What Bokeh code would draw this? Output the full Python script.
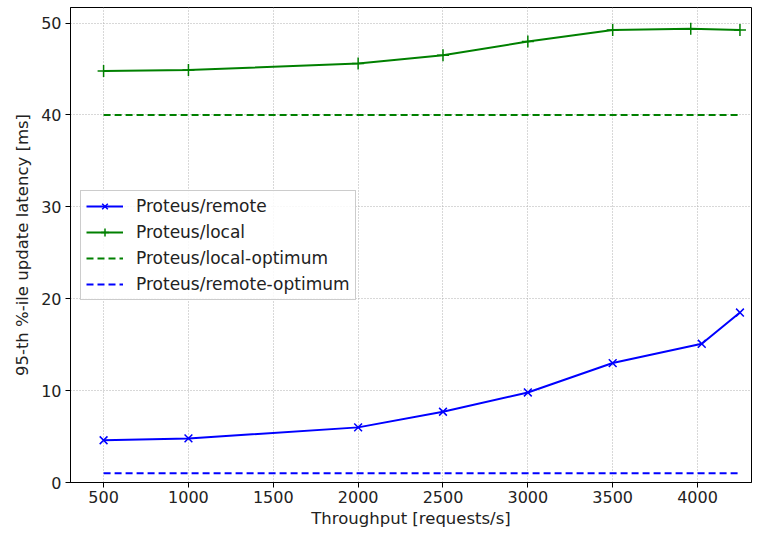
from bokeh.plotting import figure
from bokeh.models import Range1d, Legend, LegendItem, FixedTicker
from bokeh.embed import file_html
from bokeh.resources import INLINE

# data
remote_x = [500, 1000, 2000, 2500, 3000, 3500, 4025, 4250]
remote_y = [4.6, 4.8, 6.0, 7.7, 9.8, 13.0, 15.1, 18.5]
local_x = [500, 1000, 2000, 2500, 3000, 3500, 3960, 4250]
local_y = [44.8, 44.9, 45.6, 46.5, 48.0, 49.25, 49.4, 49.25]
opt_x = [500, 4250]
local_opt = [40.0, 40.0]
remote_opt = [1.0, 1.0]
x_ticks = [500, 1000, 1500, 2000, 2500, 3000, 3500, 4000]
y_ticks = [0, 10, 20, 30, 40, 50]

FONT = "DejaVu Sans"
BLUE = "#0000ff"
GREEN = "#008000"

p = figure(width=752, height=531, output_backend="svg", toolbar_location=None,
           x_range=Range1d(305, 4318), y_range=Range1d(0, 51.7),
           min_border_left=70, min_border_right=1, min_border_top=7, min_border_bottom=49)
p.outline_line_color = "black"
p.outline_line_width = 1

r1 = p.line(remote_x, remote_y, color=BLUE, line_width=2)
r1m = p.scatter(remote_x, remote_y, marker="x", size=11, line_color=BLUE, line_width=1.5)
r2 = p.line(local_x, local_y, color=GREEN, line_width=2)
r2m = p.scatter(local_x, local_y, marker="cross", size=12, line_color=GREEN, line_width=1.5)
r3 = p.line(opt_x, local_opt, color=GREEN, line_width=2, line_dash="7 4")
r4 = p.line(opt_x, remote_opt, color=BLUE, line_width=2, line_dash="7 4")

for ax in (p.xaxis, p.yaxis):
    ax.major_label_text_font = FONT
    ax.major_label_text_font_size = "16px"
    ax.major_label_text_color = "#222222"
    ax.axis_label_text_font = FONT
    ax.axis_label_text_font_size = "16.5px"
    ax.axis_label_text_font_style = "normal"
    ax.axis_label_text_color = "#222222"
    ax.major_tick_in = 0
    ax.major_tick_out = 5
    ax.minor_tick_in = 0
    ax.minor_tick_out = 0
    ax.axis_line_color = "black"

p.xaxis.ticker = FixedTicker(ticks=x_ticks)
p.yaxis.ticker = FixedTicker(ticks=y_ticks)
p.xaxis.axis_label = "Throughput [requests/s]"
p.yaxis.axis_label = "95-th %-ile update latency [ms]"
p.xaxis.major_label_standoff = 3
p.yaxis.major_label_standoff = 4
p.xaxis.axis_label_standoff = 3
p.yaxis.axis_label_standoff = 6

p.xgrid.ticker = FixedTicker(ticks=x_ticks)
p.ygrid.ticker = FixedTicker(ticks=y_ticks)
for g in (p.xgrid, p.ygrid):
    g.grid_line_color = "#b0b0b0"
    g.grid_line_dash = "1 2"
    g.grid_line_width = 1

legend = Legend(items=[
    LegendItem(label="Proteus/remote", renderers=[r1, r1m]),
    LegendItem(label="Proteus/local", renderers=[r2, r2m]),
    LegendItem(label="Proteus/local-optimum", renderers=[r3]),
    LegendItem(label="Proteus/remote-optimum", renderers=[r4]),
], location=(10, 182))
legend.label_text_font = FONT
legend.label_text_font_size = "17px"
legend.label_text_color = "#222222"
legend.border_line_color = "#cccccc"
legend.border_line_alpha = 1
legend.background_fill_alpha = 0.85
legend.glyph_width = 37
legend.glyph_height = 20
legend.spacing = 6
legend.padding = 5
legend.margin = 0
legend.label_standoff = 13
p.add_layout(legend, "center")

open("out.html", "w").write(file_html(p, INLINE))
